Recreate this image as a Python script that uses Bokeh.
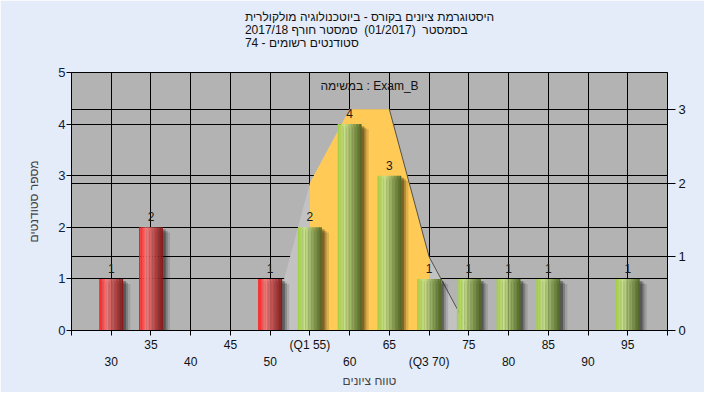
import numpy as np
from bokeh.plotting import figure
from bokeh.models import Range1d, LinearAxis, FixedTicker, Grid, Label, ColumnDataSource
from bokeh.core.properties import value
from bokeh.embed import file_html
from bokeh.resources import INLINE

# ---------------- data ----------------
title_lines = [
    "היסטוגרמת ציונים בקורס - ביוטכנולוגיה מולקולרית",
    "בסמסטר\u00a0\u00a0(01/2017)\u00a0\u00a0סמסטר חורף 2017/18",
    "סטודנטים רשומים - 74",
]
task_label = "במשימה : Exam_B"
x_title = "טווח ציונים"
y_title = "מספר סטודנטים"

grades = [30, 35, 50, 55, 60, 65, 70, 75, 80, 85, 95]
counts = [1, 2, 1, 2, 4, 3, 1, 1, 1, 1, 1]
pass_mark = 55

curve_x = [50, 55, 60, 65, 70, 75]
curve_y = [0, 2, 3, 3, 1, 0]
q1, q3 = 55, 70

grid_ticks = list(range(25, 101, 5))
upper_ticks = [35, 45, 55, 65, 75, 85, 95]
upper_labels = ["35", "45", "(Q1 55)", "65", "75", "85", "95"]
lower_ticks = [30, 40, 50, 60, 70, 80, 90]
lower_labels = ["30", "40", "50", "60", "(Q3 70)", "80", "90"]

FONT = "Liberation Sans"
BAR_W = 3.0

p = figure(width=704, height=392, x_range=Range1d(25, 100), y_range=Range1d(0, 5),
           output_backend="svg", toolbar_location=None,
           min_border_left=71, min_border_right=37, min_border_top=72, min_border_bottom=62)
p.extra_y_ranges = {"right": Range1d(0, 3.5)}

p.background_fill_color = "#B3B3B3"
p.border_fill_color = "#E3ECF8"
p.outline_line_color = "black"

# title (a trailing blank line keeps the block near the top of the border)
p.title.text = "\n".join(title_lines + ["\u00a0"])
p.title.align = "center"
p.title.vertical_align = "top"
p.title.text_font = FONT
p.title.text_font_size = "12px"
p.title.text_font_style = "normal"
p.title.text_color = "#111111"
p.title.text_line_height = 0.92
p.title.standoff = 15

# grids
p.xgrid.ticker = FixedTicker(ticks=grid_ticks)
p.xgrid.grid_line_color = "black"
p.ygrid.ticker = FixedTicker(ticks=[1, 2, 3, 4])
p.ygrid.grid_line_color = "black"
p.add_layout(Grid(dimension=1, ticker=FixedTicker(ticks=[1, 2, 3]), y_range_name="right",
                  grid_line_color="black"))

# area curve (right axis)
p.varea(x=curve_x, y1=0, y2=curve_y, fill_color="#C2C2C2", y_range_name="right")
mask = [(x >= q1) and (x <= q3) for x in curve_x]
ox = [x for x, m in zip(curve_x, mask) if m]
oy = [y for y, m in zip(curve_y, mask) if m]
p.varea(x=ox, y1=0, y2=oy, fill_color="#FFCA55", y_range_name="right")
lx = [x for x in curve_x if x >= 65]
ly = [y for x, y in zip(curve_x, curve_y) if x >= 65]
p.line(lx, ly, line_color="#505050", line_width=1, y_range_name="right")

# shadows
for off, alpha, shrink in [(0.9, 0.12, 0.10), (0.6, 0.2, 0.07), (0.35, 0.3, 0.04)]:
    p.vbar(x=[g + off for g in grades], top=[c - shrink for c in counts], width=BAR_W,
           fill_color="black", fill_alpha=alpha, line_color=None)

# gradient bars
def interp(stops, t):
    for (t0, c0), (t1, c1) in zip(stops[:-1], stops[1:]):
        if t <= t1:
            f = (t - t0) / (t1 - t0)
            c = [int(round(a + (b - a) * f)) for a, b in zip(c0, c1)]
            return "#%02x%02x%02x" % tuple(c)
    return "#%02x%02x%02x" % tuple(stops[-1][1])

red_stops = [(0.0, (255, 15, 15)), (0.3, (245, 125, 125)), (1.0, (130, 22, 22))]
green_stops = [(0.0, (160, 205, 65)), (0.3, (200, 225, 140)), (1.0, (78, 102, 34))]

N = 16
sw = BAR_W / N
xs, tops, cols = [], [], []
for g, c in zip(grades, counts):
    stops = red_stops if g < pass_mark else green_stops
    for k in range(N):
        t = (k + 0.5) / N
        xs.append(g - BAR_W / 2 + (k + 0.5) * sw)
        tops.append(c)
        cols.append(interp(stops, t))
p.vbar(x=xs, top=tops, width=sw * 1.05, fill_color=cols, line_color=None)

# count labels
src = ColumnDataSource(dict(x=grades, y=counts, t=[str(c) for c in counts]))
p.text(x="x", y="y", text="t", source=src, text_align="center", text_baseline="bottom",
       y_offset=-6, text_font=value(FONT), text_font_size="12px", text_color="#1a1a1a")

# task label
p.add_layout(Label(x=62.5, y=4.73, text=task_label, text_align="center", text_baseline="middle",
                   text_font=FONT, text_font_size="12px", text_color="#111111"))

# left axis
ya = p.yaxis[0]
ya.ticker = FixedTicker(ticks=[0, 1, 2, 3, 4, 5])
ya.major_tick_in = 0
ya.major_tick_out = 5
ya.minor_tick_line_color = None
ya.major_label_standoff = 1
ya.major_label_text_font = FONT
ya.major_label_text_font_size = "13px"
ya.major_label_text_color = "#102040"
ya.axis_label = y_title
ya.axis_label_text_font = FONT
ya.axis_label_text_font_size = "12px"
ya.axis_label_text_font_style = "normal"
ya.axis_label_standoff = 14

# right axis
ra = LinearAxis(y_range_name="right", ticker=FixedTicker(ticks=[0, 1, 2, 3]))
ra.major_tick_in = 0
ra.major_tick_out = 8
ra.minor_tick_line_color = None
ra.major_label_standoff = 3
ra.major_label_text_font = FONT
ra.major_label_text_font_size = "13px"
ra.major_label_text_color = "#111111"
p.add_layout(ra, "right")

# bottom axis (upper row of labels)
xa = p.xaxis[0]
xa.ticker = FixedTicker(ticks=grid_ticks)
xa.major_label_overrides = {t: (upper_labels[upper_ticks.index(t)] if t in upper_ticks else "")
                            for t in grid_ticks}
xa.major_tick_in = 0
xa.major_tick_out = 5
xa.minor_tick_line_color = None
xa.major_label_standoff = 2
xa.major_label_text_font = FONT
xa.major_label_text_font_size = "12px"
xa.major_label_text_color = "#111111"

# bottom axis (lower row of labels)
xb = LinearAxis(ticker=FixedTicker(ticks=lower_ticks),
                major_label_overrides={t: l for t, l in zip(lower_ticks, lower_labels)})
xb.axis_line_color = None
xb.major_tick_line_color = None
xb.minor_tick_line_color = None
xb.major_tick_in = 0
xb.major_tick_out = 0
xb.major_label_standoff = 0
xb.major_label_text_font = FONT
xb.major_label_text_font_size = "12px"
xb.major_label_text_color = "#111111"
xb.axis_label = x_title
xb.axis_label_text_font = FONT
xb.axis_label_text_font_size = "12px"
xb.axis_label_text_font_style = "normal"
xb.axis_label_standoff = 2
p.add_layout(xb, "below")

open("out.html", "w").write(file_html(p, INLINE))
